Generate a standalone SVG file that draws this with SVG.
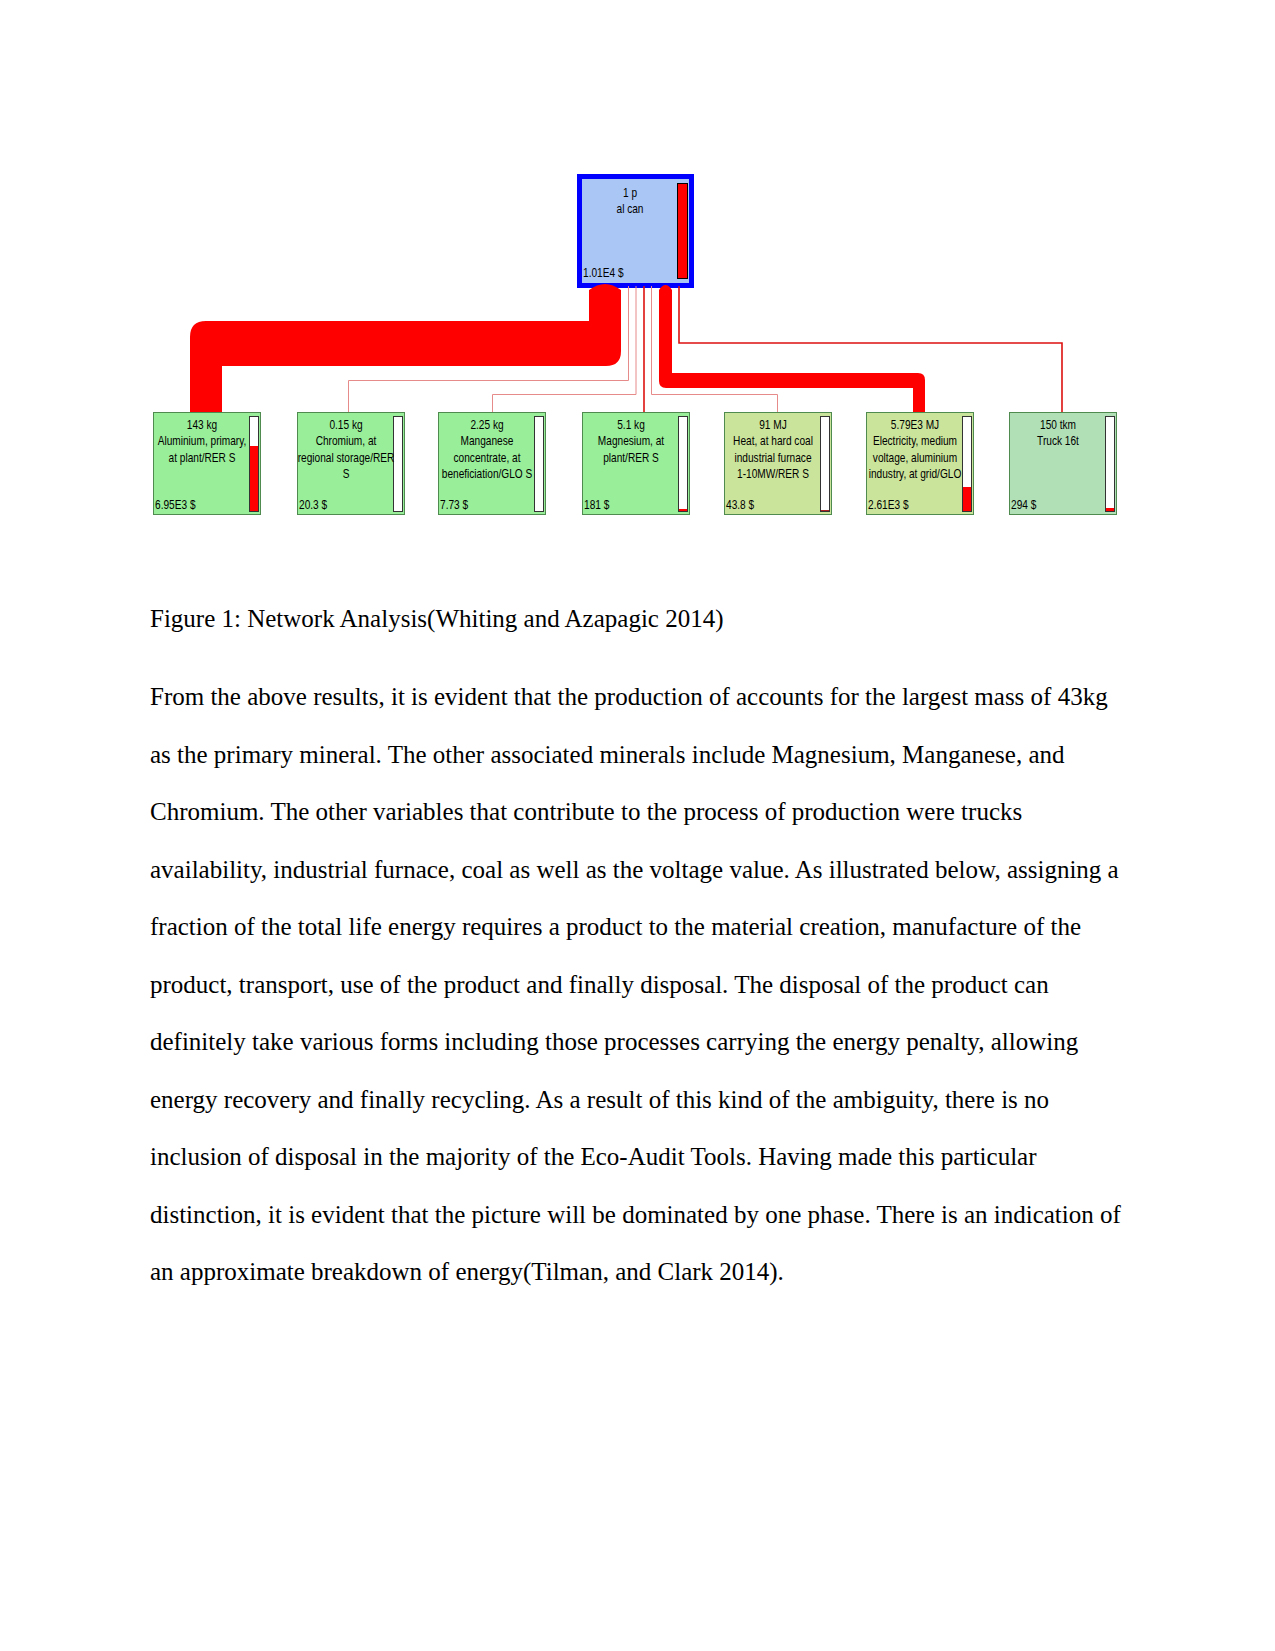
<svg xmlns="http://www.w3.org/2000/svg" width="1275" height="1651" viewBox="0 0 1275 1651">
<style>
.lbl{font-family:"Liberation Sans",Arial,sans-serif;font-size:12.5px;fill:#000;text-anchor:middle}
.val{text-anchor:start}
.node{stroke:#4f8a4f;stroke-width:1}
.g{fill:#99ee99}
.y{fill:#cbe49b}
.t{fill:#b1e0b6}
.bar{fill:#fff;stroke:#333;stroke-width:1}
.red{fill:#ff0000}
.thin{fill:none;stroke:#e68a8a;stroke-width:1}
.mid{fill:none;stroke:#dd1111;stroke-width:1.6}
.flow{fill:#ff0000}
.body{font-family:"Liberation Serif","Times New Roman",serif;font-size:25px;fill:#000}
</style>
<rect width="1275" height="1651" fill="#fff"/>

<g id="node-al-can">
<rect x="579.5" y="176.5" width="112" height="109" fill="#aac6f5" stroke="#0000ff" stroke-width="5"/>
<rect x="677.5" y="183.5" width="10" height="95" fill="#ff0000" stroke="#000" stroke-width="1"/>
<g class="lbl" transform="translate(630 0) scale(0.81 1)">
<text x="0" y="197">1 p</text>
<text x="0" y="213">al can</text>
<text class="val" x="-58" y="277">1.01E4 $</text>
</g>
</g>

<g id="node-aluminium">
<rect class="node g" x="153.5" y="412.5" width="107" height="102"/>
<rect class="bar" x="249.5" y="416.5" width="9" height="95"/>
<rect class="red" x="250" y="446" width="8" height="65"/>
<g class="lbl" transform="translate(202 0) scale(0.81 1)">
<text x="0" y="429">143 kg</text>
<text x="0" y="445.3">Aluminium, primary,</text>
<text x="0" y="461.6">at plant/RER S</text>
<text class="val" x="-58" y="509">6.95E3 $</text>
</g>
</g>

<g id="node-chromium">
<rect class="node g" x="297.5" y="412.5" width="107" height="102"/>
<rect class="bar" x="393.5" y="416.5" width="9" height="95"/>
<g class="lbl" transform="translate(346 0) scale(0.81 1)">
<text x="0" y="429">0.15 kg</text>
<text x="0" y="445.3">Chromium, at</text>
<text x="0" y="461.6">regional storage/RER</text>
<text x="0" y="477.9">S</text>
<text class="val" x="-58" y="509">20.3 $</text>
</g>
</g>

<g id="node-manganese">
<rect class="node g" x="438.5" y="412.5" width="107" height="102"/>
<rect class="bar" x="534.5" y="416.5" width="9" height="95"/>
<g class="lbl" transform="translate(487 0) scale(0.81 1)">
<text x="0" y="429">2.25 kg</text>
<text x="0" y="445.3">Manganese</text>
<text x="0" y="461.6">concentrate, at</text>
<text x="0" y="477.9">beneficiation/GLO S</text>
<text class="val" x="-58" y="509">7.73 $</text>
</g>
</g>

<g id="node-magnesium">
<rect class="node g" x="582.5" y="412.5" width="107" height="102"/>
<rect class="bar" x="678.5" y="416.5" width="9" height="95"/>
<rect class="red" x="679" y="509" width="8" height="2"/>
<g class="lbl" transform="translate(631 0) scale(0.81 1)">
<text x="0" y="429">5.1 kg</text>
<text x="0" y="445.3">Magnesium, at</text>
<text x="0" y="461.6">plant/RER S</text>
<text class="val" x="-58" y="509">181 $</text>
</g>
</g>

<g id="node-heat">
<rect class="node y" x="724.5" y="412.5" width="107" height="102"/>
<rect class="bar" x="820.5" y="416.5" width="9" height="95"/>
<rect x="821" y="510" width="8" height="1" fill="#aa2222"/>
<g class="lbl" transform="translate(773 0) scale(0.81 1)">
<text x="0" y="429">91 MJ</text>
<text x="0" y="445.3">Heat, at hard coal</text>
<text x="0" y="461.6">industrial furnace</text>
<text x="0" y="477.9">1-10MW/RER S</text>
<text class="val" x="-58" y="509">43.8 $</text>
</g>
</g>

<g id="node-electricity">
<rect class="node y" x="866.5" y="412.5" width="107" height="102"/>
<rect class="bar" x="962.5" y="416.5" width="9" height="95"/>
<rect class="red" x="963" y="487" width="8" height="24"/>
<g class="lbl" transform="translate(915 0) scale(0.81 1)">
<text x="0" y="429">5.79E3 MJ</text>
<text x="0" y="445.3">Electricity, medium</text>
<text x="0" y="461.6">voltage, aluminium</text>
<text x="0" y="477.9">industry, at grid/GLO</text>
<text class="val" x="-58" y="509">2.61E3 $</text>
</g>
</g>

<g id="node-truck">
<rect class="node t" x="1009.5" y="412.5" width="107" height="102"/>
<rect class="bar" x="1105.5" y="416.5" width="9" height="95"/>
<rect class="red" x="1106" y="508" width="8" height="3"/>
<g class="lbl" transform="translate(1058 0) scale(0.81 1)">
<text x="0" y="429">150 tkm</text>
<text x="0" y="445.3">Truck 16t</text>
<text class="val" x="-58" y="509">294 $</text>
</g>
</g>

<g id="connectors">
<path class="flow" d="M589 290 Q605 278 621 290 L621 351 Q621 366 606 366 L222 366 L222 412 L190 412 L190 337 Q190 321 206 321 L589 321 Z"/>
<path class="flow" d="M659 290 Q665.5 280 672 290 L672 373 L918 373 Q925 373 925 380 L925 412 L913 412 L913 388 L666 388 Q659 388 659 381 Z"/>
<path class="thin" d="M628.5 286 V380.5 H348.5 V412"/>
<path class="thin" d="M636 286 V394.5 H492.5 V412"/>
<path class="mid" d="M644 286 V412"/>
<path class="thin" d="M651.5 286 V394.5 H777.5 V412"/>
<path class="mid" d="M679 286 V343 H1062 V412"/>
</g>

<g id="caption">
<text class="body" x="150" y="627">Figure 1: Network Analysis(Whiting and Azapagic 2014)</text>
</g>
<g id="body-text">
<text class="body" x="150" y="705">From the above results, it is evident that the production of accounts for the largest mass of 43kg</text>
<text class="body" x="150" y="762.5">as the primary mineral. The other associated minerals include Magnesium, Manganese, and</text>
<text class="body" x="150" y="820">Chromium. The other variables that contribute to the process of production were trucks</text>
<text class="body" x="150" y="877.5">availability, industrial furnace, coal as well as the voltage value. As illustrated below, assigning a</text>
<text class="body" x="150" y="935">fraction of the total life energy requires a product to the material creation, manufacture of the</text>
<text class="body" x="150" y="992.5">product, transport, use of the product and finally disposal. The disposal of the product can</text>
<text class="body" x="150" y="1050">definitely take various forms including those processes carrying the energy penalty, allowing</text>
<text class="body" x="150" y="1107.5">energy recovery and finally recycling. As a result of this kind of the ambiguity, there is no</text>
<text class="body" x="150" y="1165">inclusion of disposal in the majority of the Eco-Audit Tools. Having made this particular</text>
<text class="body" x="150" y="1222.5">distinction, it is evident that the picture will be dominated by one phase. There is an indication of</text>
<text class="body" x="150" y="1280">an approximate breakdown of energy(Tilman, and Clark 2014).</text>
</g>
</svg>
